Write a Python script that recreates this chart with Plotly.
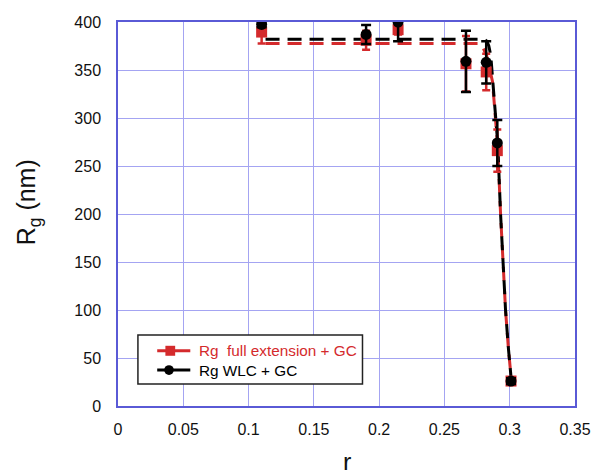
import plotly.graph_objects as go

# Measured radius of gyration vs r
r_pts = [0.110, 0.190, 0.2145, 0.2665, 0.282, 0.2905, 0.301]

rg_wlc = [397.5, 387, 400, 359, 358, 274, 26]
rg_wlc_err = [3, 10, 20, 32, 22, 24, 3]

rg_full = [389.5, 381, 392, 356.5, 348, 266, 26]
rg_full_err = [12, 10, 5, 29, 19, 22, 2]

# Fitted curves (dashed)
r_fit_wlc = [0.113, 0.2805, 0.2825, 0.2840, 0.2855, 0.2868, 0.2880, 0.2893,
             0.2908, 0.293, 0.2968, 0.2990, 0.3013]
rg_fit_wlc = [382, 382, 380, 375, 365, 343, 322, 301,
              274, 200, 100, 60, 26]

r_fit_full = [0.113, 0.2755, 0.2793, 0.2823, 0.2845, 0.2868, 0.2880,
              0.2893, 0.2908, 0.293, 0.2968, 0.2990, 0.3013]
rg_fit_full = [377.5, 377.5, 374, 365, 352, 338, 318,
               298, 270, 200, 100, 60, 26]

x_ticks = [0, 0.05, 0.1, 0.15, 0.2, 0.25, 0.3, 0.35]
x_tick_text = ["0", "0.05", "0.1", "0.15", "0.2", "0.25", "0.3", "0.35"]
y_ticks = [0, 50, 100, 150, 200, 250, 300, 350, 400]

legend_labels = ["Rg\u00a0 full extension + GC", "Rg WLC + GC"]

RED = "#d42a2c"
BLACK = "#000000"
FONT = "Liberation Sans, Arial, sans-serif"

fig = go.Figure()

# dashed fit curves
fig.add_trace(go.Scatter(x=r_fit_full, y=rg_fit_full, mode="lines",
                         line=dict(color=RED, width=3, dash="14px,8px"),
                         showlegend=False, hoverinfo="skip"))
fig.add_trace(go.Scatter(x=r_fit_wlc, y=rg_fit_wlc, mode="lines",
                         line=dict(color=BLACK, width=3, dash="14px,8px"),
                         showlegend=False, hoverinfo="skip"))

# data points with error bars
fig.add_trace(go.Scatter(x=r_pts, y=rg_full, mode="markers",
                         marker=dict(symbol="square", size=11, color=RED),
                         error_y=dict(type="data", array=rg_full_err, color=RED,
                                      thickness=2.5, width=4),
                         showlegend=False))
fig.add_trace(go.Scatter(x=r_pts, y=rg_wlc, mode="markers",
                         marker=dict(symbol="circle", size=11, color=BLACK),
                         error_y=dict(type="data", array=rg_wlc_err, color=BLACK,
                                      thickness=2.5, width=5),
                         showlegend=False))

axis_common = dict(
    showgrid=True, gridcolor="#a4a4f2", gridwidth=1,
    showline=True, linecolor="#5a5ad6", linewidth=1.5, mirror=True,
    ticks="", zeroline=False,
    tickfont=dict(family=FONT, size=16, color="#111111"),
)

# boxed key in the lower-left of the plot (paper coordinates)
shapes = [
    dict(type="rect", xref="paper", yref="paper", x0=0.0436, x1=0.535,
         y0=0.0572, y1=0.1847, line=dict(color="#222222", width=1.5),
         fillcolor="white", layer="above"),
    dict(type="line", xref="paper", yref="paper", x0=0.0858, x1=0.1582,
         y0=0.1438, y1=0.1438, line=dict(color=RED, width=3), layer="above"),
    dict(type="rect", xref="paper", yref="paper", x0=0.1144 - 0.0107,
         x1=0.1144 + 0.0107, y0=0.1438 - 0.013, y1=0.1438 + 0.013,
         line=dict(width=0), fillcolor=RED, layer="above"),
    dict(type="line", xref="paper", yref="paper", x0=0.0858, x1=0.1582,
         y0=0.0936, y1=0.0936, line=dict(color=BLACK, width=3), layer="above"),
    dict(type="circle", xref="paper", yref="paper", x0=0.1116 - 0.0105,
         x1=0.1116 + 0.0105, y0=0.0936 - 0.0127, y1=0.0936 + 0.0127,
         line=dict(width=0), fillcolor=BLACK, layer="above"),
]

annotations = [
    dict(text=legend_labels[0], xref="paper", yref="paper", x=0.1723,
         y=0.1438, xanchor="left", yanchor="middle", showarrow=False,
         font=dict(family=FONT, size=15.3, color=RED)),
    dict(text=legend_labels[1], xref="paper", yref="paper", x=0.1723,
         y=0.0936, xanchor="left", yanchor="middle", showarrow=False,
         font=dict(family=FONT, size=15.3, color=BLACK)),
    dict(text="r", xref="paper", yref="paper", x=0.5, y=-0.105,
         xanchor="center", yanchor="top", showarrow=False,
         font=dict(family=FONT, size=25, color="#111111")),
    dict(text="R<sub>g</sub> (nm)", xref="paper", yref="paper",
         x=-0.195, y=0.53, xanchor="center", yanchor="middle",
         textangle=-90, showarrow=False,
         font=dict(family=FONT, size=25, color="#111111")),
]

fig.update_layout(
    width=603, height=470,
    margin=dict(l=118, r=19, t=21.5, b=64, pad=0),
    paper_bgcolor="white", plot_bgcolor="white",
    font=dict(family=FONT),
    showlegend=False,
    xaxis=dict(range=[0, 0.35], tickvals=x_ticks, ticktext=x_tick_text,
               ticklabelstandoff=8, **axis_common),
    yaxis=dict(range=[0, 400], tickvals=y_ticks,
               ticklabelstandoff=12, **axis_common),
    shapes=shapes,
    annotations=annotations,
)

fig.write_html("out.html")
